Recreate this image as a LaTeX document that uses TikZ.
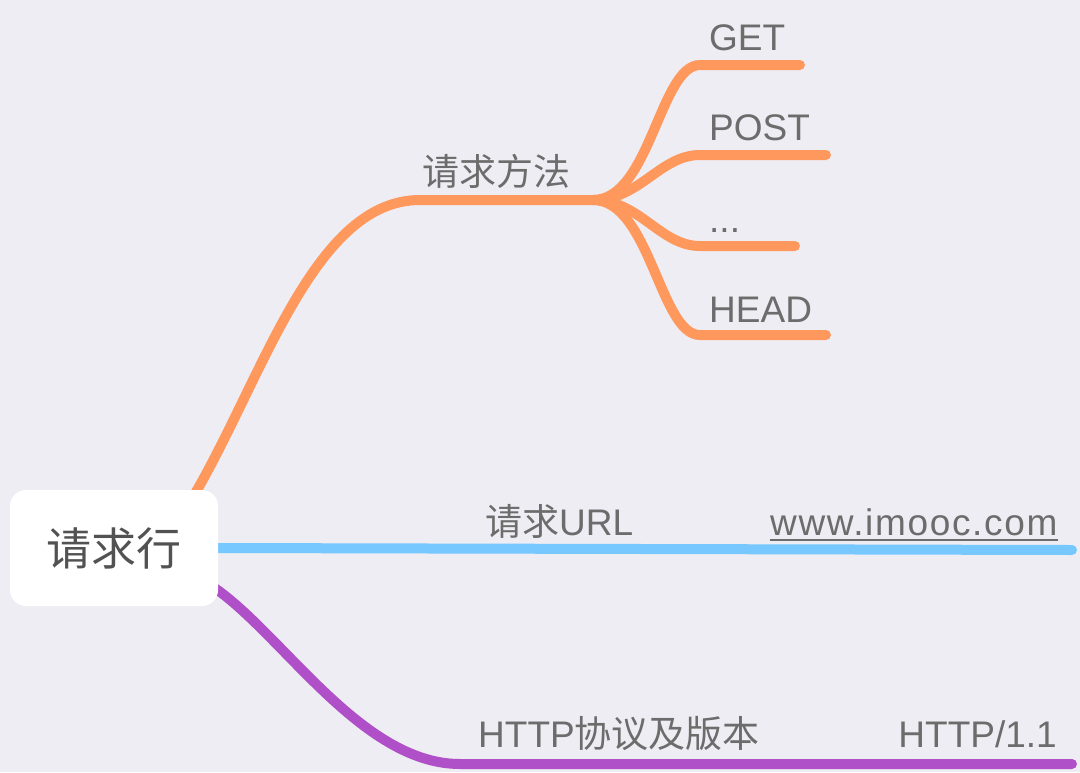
\documentclass[tikz,border=0pt]{standalone}
\usepackage{fontspec}
\setmainfont{Liberation Sans}
\newfontfamily\cjk{Noto Sans CJK SC}
\usetikzlibrary{backgrounds}
\definecolor{bg}{RGB}{238,237,243}
\definecolor{orangeline}{RGB}{255,152,92}
\definecolor{blueline}{RGB}{118,200,255}
\definecolor{purpleline}{RGB}{176,80,200}
\definecolor{txt}{RGB}{108,108,108}
\definecolor{roottxt}{RGB}{82,82,82}
\tikzset{
  branch/.style={line width=10pt, line cap=round},
  leaf/.style={inner sep=0pt, text=txt, font=\fontsize{37}{40}\selectfont},
  rootbox/.style={fill=white, rounded corners=16pt, minimum width=208pt, minimum height=116pt,
    text=roottxt, font=\fontsize{45}{48}\selectfont\cjk}
}

\begin{document}
\begin{tikzpicture}[x=1pt,y=-1pt]
    \useasboundingbox (0,0) rectangle (1080,772);
    \node[rootbox] (root) at (114,548) {请求行}; % central topic
    \node[leaf, anchor=base] (method) at (496,185) {\cjk 请求方法};
    \node[leaf, anchor=base west] (get) at (709,50) {GET};
    \node[leaf, anchor=base west] (post) at (709,140) {POST};
    \node[leaf, anchor=base west] (more) at (709,232) {...};
    \node[leaf, anchor=base west] (head) at (709,322) {HEAD};
    \node[leaf, anchor=base west] (url) at (485,535) {{\cjk 请求}URL};
    \node[leaf, anchor=base west] (site) at (770,535) {\addfontfeature{LetterSpace=4.5}www.imooc.com};
    \node[leaf, anchor=base west] (version) at (478,747) {HTTP{\cjk 协议及版本}};
    \node[leaf, anchor=base east] (http) at (1057,747) {HTTP/1.1};
    \draw[txt, line width=2pt] ([yshift=-5pt]site.base west) -- ([yshift=-5pt]site.base east); % underline
    \coordinate (fork) at (593,200);
    \coordinate (getend) at (800,65);
    \coordinate (postend) at (826,155);
    \coordinate (moreend) at (795,246);
    \coordinate (headend) at (826,335);
    \coordinate (urlend) at (1072,550);
    \coordinate (versionend) at (1072,764);
    \begin{pgfonlayer}{background}
    \fill[bg] (0,0) rectangle (1080,772); % background
    \draw[branch, orangeline] ([xshift=-33pt,yshift=38pt]root.east) .. controls (260,390) and (310,200) .. (420,200) -- (fork); % method
    \draw[branch, orangeline] (fork) .. controls (650,200) and (660,65) .. (700,65) -- (getend);
    \draw[branch, orangeline] (fork) .. controls (640,200) and (660,155) .. (700,155) -- (postend);
    \draw[branch, orangeline] (fork) .. controls (640,200) and (660,246) .. (700,246) -- (moreend);
    \draw[branch, orangeline] (fork) .. controls (650,200) and (660,335) .. (700,335) -- (headend);
    \draw[branch, blueline] (root.east) -- (urlend); % url
    \draw[branch, purpleline] ([xshift=-8pt,yshift=-37pt]root.east) .. controls (280,630) and (360,764) .. (460,764) -- (versionend); % version
    \end{pgfonlayer}
\end{tikzpicture}
\end{document}
